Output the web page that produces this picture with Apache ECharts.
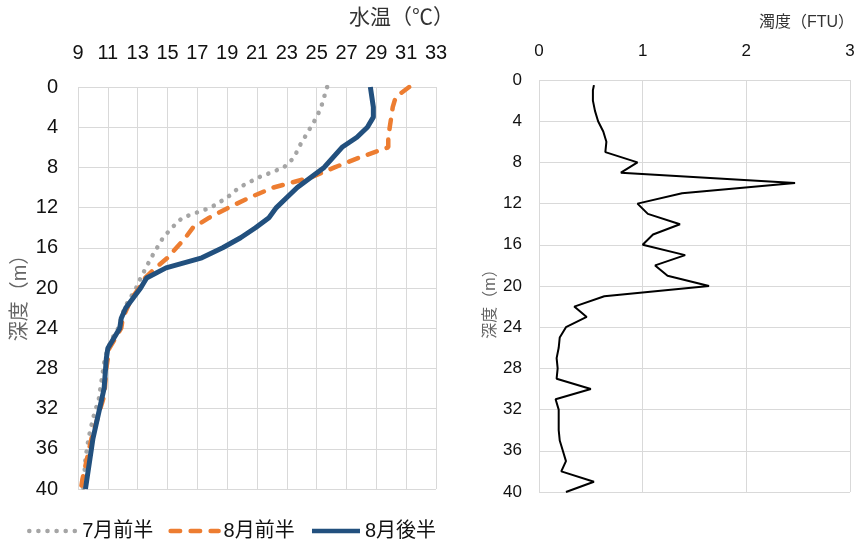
<!DOCTYPE html>
<html><head><meta charset="utf-8">
<script src="https://cdn.jsdelivr.net/npm/echarts@6/dist/echarts.min.js"></script>
<style>html,body{margin:0;padding:0;background:#fff}#c{width:858px;height:552px}</style>
</head><body><div id="c"></div>
<script>
// ---- data ----
const depths = [0,1,2,3,4,5,6,7,8,9,10,11,12,13,14,15,16,17,18,19,20,21,22,23,24,25,26,27,28,29,30,31,32,33,34,35,36,37,38,39,40];
const julFirst = [25.7,25.5,25.3,25.0,24.6,24.2,23.8,23.5,22.8,21.1,19.8,19.0,17.9,16.0,15.3,14.7,14.3,13.9,13.55,13.2,12.9,12.5,12.1,11.9,11.7,11.3,11.0,10.8,10.7,10.6,10.5,10.4,10.2,10.0,9.85,9.7,9.6,9.5,9.45,9.4,9.35];
const augFirst = [31.2,30.3,30.1,30.0,29.9,29.8,29.8,27.9,26.2,24.6,22.1,20.5,19.1,17.8,16.7,16.2,15.6,15.0,14.2,13.5,13.1,12.6,12.3,12.0,11.9,11.5,11.1,11.0,10.9,10.85,10.8,10.7,10.5,10.3,10.1,9.9,9.75,9.6,9.45,9.3,9.2];
const augSecond = [28.6,28.7,28.8,28.8,28.4,27.7,26.7,26.1,25.5,24.6,23.7,23.0,22.3,21.8,20.9,19.9,18.7,17.3,14.9,13.6,13.2,12.7,12.2,11.9,11.8,11.4,11.0,10.9,10.85,10.8,10.75,10.6,10.45,10.3,10.15,10.0,9.9,9.8,9.7,9.6,9.5];
const seriesNames = ['7月前半','8月前半','8月後半'];
const turbDepths = [0.5,1,2,3,4,5,6,7,8,9,10,11,12,13,14,15,16,17,18,19,20,21,22,23,24,25,26,27,28,29,30,31,32,33,34,35,36,37,38,39,40];
const turbidity = [0.53,0.52,0.52,0.54,0.57,0.62,0.65,0.64,0.95,0.79,2.47,1.38,0.95,1.05,1.36,1.10,1.00,1.41,1.12,1.24,1.64,0.63,0.34,0.46,0.26,0.20,0.19,0.17,0.18,0.17,0.50,0.16,0.19,0.19,0.19,0.20,0.23,0.26,0.215,0.53,0.26];
const tempTicks = {min: 9, max: 33, interval: 2};
const turbTicks = {min: 0, max: 3, interval: 1};
const depthTicks = {min: 0, max: 40, interval: 4};

const FONT = '"Liberation Sans", "Noto Sans CJK JP", sans-serif';
const pair = (xs, ys) => ys.map((y, i) => [xs[i], y]);
const chart = echarts.init(document.getElementById('c'), null, {renderer: 'canvas'});
const split = {show: true, lineStyle: {color: '#D9D9D9', width: 1}};
chart.setOption({
  animation: false,
  textStyle: {fontFamily: FONT},
  grid: [
    {left: 78, top: 87, width: 358, height: 402},
    {left: 539, top: 80, width: 311, height: 412}
  ],
  xAxis: [
    {gridIndex: 0, type: 'value', position: 'top', min: tempTicks.min, max: tempTicks.max, interval: tempTicks.interval,
     axisLine: {show: false}, axisTick: {show: false}, splitLine: split,
     axisLabel: {fontSize: 20, color: '#111', margin: 24, fontFamily: FONT}},
    {gridIndex: 1, type: 'value', position: 'top', min: turbTicks.min, max: turbTicks.max, interval: turbTicks.interval,
     axisLine: {show: false}, axisTick: {show: false}, splitLine: split,
     axisLabel: {fontSize: 17, color: '#111', margin: 20, fontFamily: FONT}}
  ],
  yAxis: [
    {gridIndex: 0, type: 'value', inverse: true, min: depthTicks.min, max: depthTicks.max, interval: depthTicks.interval,
     axisLine: {show: false}, axisTick: {show: false}, splitLine: split,
     axisLabel: {fontSize: 20, color: '#111', margin: 20, fontFamily: FONT}},
    {gridIndex: 1, type: 'value', inverse: true, min: depthTicks.min, max: depthTicks.max, interval: depthTicks.interval,
     axisLine: {show: false}, axisTick: {show: false}, splitLine: split,
     axisLabel: {fontSize: 17, color: '#111', margin: 17, fontFamily: FONT}}
  ],
  legend: {
    bottom: 6, left: 22, itemWidth: 48, itemHeight: 8, itemGap: 15,
    textStyle: {fontSize: 20, color: '#111', fontFamily: FONT},
    itemStyle: {opacity: 0},
    lineStyle: {width: 4.5},
    data: seriesNames
  },
  graphic: [
    {type: 'text', right: 404, top: 8, style: {text: '水温（℃）', font: '21px ' + FONT, fill: '#333'}},
    {type: 'text', right: 4, top: 15, style: {text: '濁度（FTU）', font: '16px ' + FONT, fill: '#333'}},
    {type: 'text', x: 20, y: 293, rotation: Math.PI / 2, style: {text: '深度（m）', font: '20px ' + FONT, fill: '#666', align: 'center', verticalAlign: 'middle'}},
    {type: 'text', x: 491, y: 300, rotation: Math.PI / 2, style: {text: '深度（m）', font: '16px ' + FONT, fill: '#666', align: 'center', verticalAlign: 'middle'}}
  ],
  series: [
    {name: seriesNames[0], type: 'line', xAxisIndex: 0, yAxisIndex: 0, symbol: 'none', data: pair(julFirst, depths),
     lineStyle: {color: '#A5A5A5', width: 4.5, type: [0.1, 9], cap: 'round'}, itemStyle: {color: '#A5A5A5'}},
    {name: seriesNames[1], type: 'line', xAxisIndex: 0, yAxisIndex: 0, symbol: 'none', data: pair(augFirst, depths),
     lineStyle: {color: '#ED7D31', width: 4.5, type: [9.5, 10.5], cap: 'round'}, itemStyle: {color: '#ED7D31'}},
    {name: seriesNames[2], type: 'line', xAxisIndex: 0, yAxisIndex: 0, symbol: 'none', data: pair(augSecond, depths),
     lineStyle: {color: '#22507E', width: 5}, itemStyle: {color: '#22507E'}},
    {name: '濁度', type: 'line', xAxisIndex: 1, yAxisIndex: 1, symbol: 'none', data: pair(turbidity, turbDepths),
     lineStyle: {color: '#000', width: 2}, itemStyle: {color: '#000'}}
  ]
});
</script>
</body></html>
